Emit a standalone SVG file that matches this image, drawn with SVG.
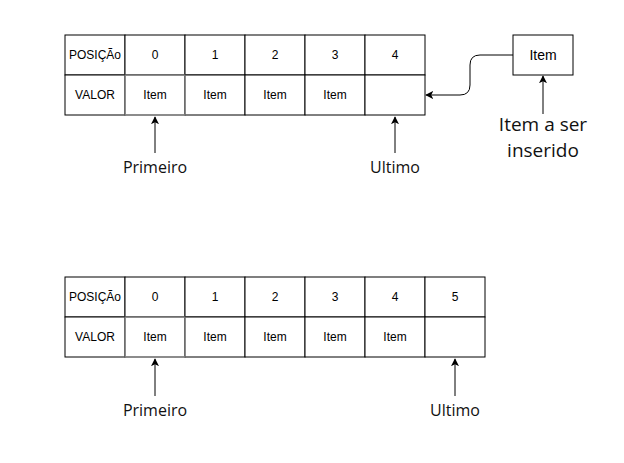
<svg xmlns="http://www.w3.org/2000/svg" width="624" height="463" viewBox="0 0 624 463">
<style>
.cell{fill:#fff;stroke:#000;stroke-width:1}
.sel{fill:none;stroke:#999;stroke-width:1}
.t{font-family:"Liberation Sans",Arial,sans-serif;font-size:12px;fill:#000;text-anchor:middle;dominant-baseline:central}
.tn{font-size:14px}
.lbl{font-family:"Open Sans","Noto Sans",sans-serif;font-size:16px;fill:#111;text-anchor:middle;dominant-baseline:central}
.big{font-size:19px;dominant-baseline:auto}
.edge{fill:none;stroke:#000;stroke-width:1}
</style>
<defs>
<marker id="ah" viewBox="0 0 10 10" refX="9" refY="5" markerWidth="8" markerHeight="8" markerUnits="userSpaceOnUse" orient="auto">
<path d="M0,0 L10,5 L0,10 L2.5,5 Z" fill="#000"/>
</marker>
</defs>
<g id="table1">
<rect class="cell" x="65" y="35" width="60" height="40"/><text class="t" x="95" y="55">POSIÇÃo</text>
<rect class="cell" x="125" y="35" width="60" height="40"/><text class="t" x="155" y="55">0</text>
<rect class="cell" x="185" y="35" width="60" height="40"/><text class="t" x="215" y="55">1</text>
<rect class="cell" x="245" y="35" width="60" height="40"/><text class="t" x="275" y="55">2</text>
<rect class="cell" x="305" y="35" width="60" height="40"/><text class="t" x="335" y="55">3</text>
<rect class="cell" x="365" y="35" width="60" height="40"/><text class="t" x="395" y="55">4</text>
<rect class="cell" x="65" y="75" width="60" height="40"/><text class="t" x="95" y="95">VALOR</text>
<rect class="cell" x="125" y="75" width="60" height="40"/>
<rect class="cell" x="185" y="75" width="60" height="40"/><text class="t" x="215" y="95">Item</text>
<rect class="cell" x="245" y="75" width="60" height="40"/><text class="t" x="275" y="95">Item</text>
<rect class="cell" x="305" y="75" width="60" height="40"/><text class="t" x="335" y="95">Item</text>
<rect class="cell" x="365" y="75" width="60" height="40"/>
<rect class="sel" x="125" y="75" width="60" height="40"/><text class="t" x="155" y="95">Item</text>
</g>
<g id="newitem">
<rect class="cell" x="513" y="35" width="60" height="40"/><text class="t tn" x="543" y="55">Item</text>
</g>
<g id="table2">
<rect class="cell" x="65" y="277" width="60" height="40"/><text class="t" x="95" y="297">POSIÇÃo</text>
<rect class="cell" x="125" y="277" width="60" height="40"/><text class="t" x="155" y="297">0</text>
<rect class="cell" x="185" y="277" width="60" height="40"/><text class="t" x="215" y="297">1</text>
<rect class="cell" x="245" y="277" width="60" height="40"/><text class="t" x="275" y="297">2</text>
<rect class="cell" x="305" y="277" width="60" height="40"/><text class="t" x="335" y="297">3</text>
<rect class="cell" x="365" y="277" width="60" height="40"/><text class="t" x="395" y="297">4</text>
<rect class="cell" x="425" y="277" width="60" height="40"/><text class="t" x="455" y="297">5</text>
<rect class="cell" x="65" y="317" width="60" height="40"/><text class="t" x="95" y="337">VALOR</text>
<rect class="cell" x="125" y="317" width="60" height="40"/>
<rect class="cell" x="185" y="317" width="60" height="40"/><text class="t" x="215" y="337">Item</text>
<rect class="cell" x="245" y="317" width="60" height="40"/><text class="t" x="275" y="337">Item</text>
<rect class="cell" x="305" y="317" width="60" height="40"/><text class="t" x="335" y="337">Item</text>
<rect class="cell" x="365" y="317" width="60" height="40"/><text class="t" x="395" y="337">Item</text>
<rect class="cell" x="425" y="317" width="60" height="40"/>
<rect class="sel" x="125" y="317" width="60" height="40"/><text class="t" x="155" y="337">Item</text>
</g>
<g id="labels">
<text class="lbl" x="155" y="167">Primeiro</text>
<text class="lbl" x="395" y="167">Ultimo</text>
<text class="lbl big" x="543" y="131">Item a ser</text>
<text class="lbl big" x="543" y="157">inserido</text>
<text class="lbl" x="155" y="410">Primeiro</text>
<text class="lbl" x="455" y="410">Ultimo</text>
</g>
<g id="connectors">
<path class="edge" d="M513,55 L480,55 Q470,55 470,65 L470,85 Q470,95 460,95 L426,95" marker-end="url(#ah)"/>
<path class="edge" d="M543,114 L543,76" marker-end="url(#ah)"/>
<path class="edge" d="M155,153 L155,117" marker-end="url(#ah)"/>
<path class="edge" d="M395,153 L395,117" marker-end="url(#ah)"/>
<path class="edge" d="M155,396 L155,359" marker-end="url(#ah)"/>
<path class="edge" d="M455,396 L455,359" marker-end="url(#ah)"/>
</g>
</svg>
